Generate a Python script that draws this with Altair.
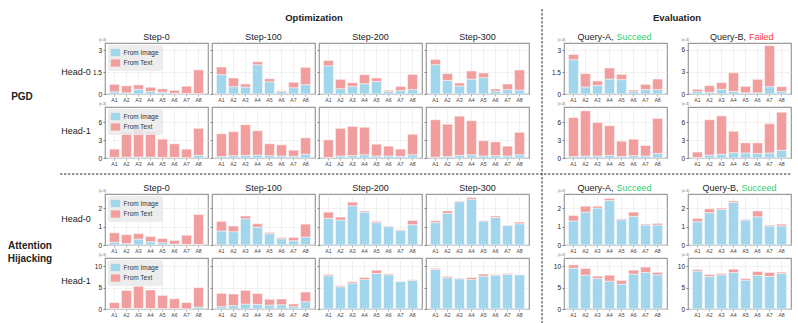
import altair as alt
import pandas as pd

FONT = "Liberation Sans"
BLUE = "#a2d6ec"
PINK = "#f29e9e"
FRAME = "#9a9a9a"
GRID = "#e8e8e8"
GREEN = "#2ecc71"
RED = "#ff3b3b"
DASH = "#333333"

CATEGORIES = ["A1", "A2", "A3", "A4", "A5", "A6", "A7", "A8"]
SOURCES = ["From Image", "From Text"]
STEP_TITLES = ["Step-0", "Step-100", "Step-200", "Step-300"]

# Each row: Step-0, Step-100, Step-200, Step-300, Query-A, Query-B
PGD_H0_IMAGE = [
    [0.15, 0.08, 0.32, 0.17, 0.12, 0.05, 0.03, 0.03],
    [1.32, 0.50, 0.48, 2.00, 0.84, 0.16, 0.43, 0.64],
    [1.92, 0.36, 0.52, 0.70, 0.86, 0.16, 0.23, 0.30],
    [2.00, 0.93, 0.55, 1.02, 1.11, 0.20, 0.30, 0.27],
    [2.34, 0.48, 0.59, 1.02, 0.98, 0.16, 0.30, 0.30],
    [0.32, 0.23, 0.64, 0.36, 0.18, 0.18, 1.00, 0.32],
]
PGD_H0_TEXT = [
    [0.51, 0.48, 0.30, 0.29, 0.23, 0.20, 0.50, 1.62],
    [0.52, 0.59, 0.20, 0.20, 0.20, 0.07, 0.37, 1.18],
    [0.37, 0.64, 0.25, 0.62, 0.23, 0.09, 0.29, 1.04],
    [0.36, 0.46, 0.20, 0.55, 0.32, 0.14, 0.38, 1.37],
    [0.36, 0.91, 0.30, 0.75, 0.36, 0.11, 0.36, 0.72],
    [0.32, 0.91, 0.91, 2.54, 0.87, 1.82, 5.60, 0.68],
]
PGD_H1_IMAGE = [
    [0.10, 0.15, 0.15, 0.15, 0.10, 0.10, 0.05, 0.45],
    [0.25, 0.40, 0.45, 0.50, 0.40, 0.35, 0.30, 0.65],
    [0.10, 0.35, 0.40, 0.55, 0.35, 0.35, 0.30, 0.55],
    [0.15, 0.25, 0.45, 0.55, 0.35, 0.40, 0.35, 0.55],
    [0.25, 0.35, 0.35, 0.45, 0.25, 0.40, 0.35, 0.75],
    [0.10, 0.50, 0.65, 0.90, 0.85, 0.75, 0.85, 1.30],
]
PGD_H1_TEXT = [
    [1.40, 4.18, 5.15, 4.29, 3.07, 2.29, 1.45, 4.55],
    [3.85, 4.04, 5.15, 4.10, 2.00, 1.87, 1.03, 2.75],
    [2.95, 4.65, 4.93, 4.62, 1.98, 1.65, 1.20, 3.45],
    [6.30, 5.45, 6.60, 5.73, 2.55, 2.32, 1.65, 3.78],
    [6.58, 7.60, 5.65, 4.99, 2.58, 2.77, 1.76, 5.92],
    [0.90, 5.95, 6.45, 3.60, 1.70, 1.80, 4.93, 6.42],
]
AH_H0_IMAGE = [
    [0.15, 0.08, 0.32, 0.17, 0.12, 0.05, 0.03, 0.03],
    [0.76, 0.72, 1.42, 0.97, 0.61, 0.34, 0.23, 0.43],
    [1.44, 1.35, 2.12, 1.78, 1.21, 0.99, 0.79, 1.10],
    [1.21, 1.71, 2.34, 2.48, 1.30, 1.49, 1.06, 1.15],
    [1.30, 1.78, 2.00, 2.41, 1.37, 1.55, 1.08, 1.08],
    [1.26, 1.75, 1.93, 2.30, 1.35, 1.53, 1.03, 1.04],
]
AH_H0_TEXT = [
    [0.51, 0.48, 0.30, 0.29, 0.23, 0.20, 0.50, 1.62],
    [0.52, 0.31, 0.15, 0.18, 0.06, 0.07, 0.18, 0.70],
    [0.34, 0.16, 0.20, 0.06, 0.07, 0.04, 0.04, 0.23],
    [0.10, 0.13, 0.04, 0.09, 0.03, 0.08, 0.02, 0.09],
    [0.30, 0.32, 0.10, 0.11, 0.05, 0.23, 0.05, 0.09],
    [0.18, 0.21, 0.07, 0.08, 0.04, 0.31, 0.05, 0.09],
]
AH_H1_IMAGE = [
    [0.10, 0.15, 0.15, 0.15, 0.10, 0.10, 0.05, 0.45],
    [0.54, 0.78, 1.16, 1.08, 0.93, 1.00, 0.54, 1.70],
    [7.75, 5.19, 6.05, 6.90, 8.29, 7.98, 6.43, 6.67],
    [9.22, 7.29, 7.05, 6.90, 7.67, 7.90, 8.06, 7.98],
    [9.53, 7.90, 7.13, 6.50, 5.81, 8.14, 8.53, 7.98],
    [8.84, 7.60, 7.98, 8.53, 6.74, 7.83, 7.60, 8.29],
]
AH_H1_TEXT = [
    [1.40, 4.18, 5.15, 4.29, 3.07, 2.29, 1.45, 4.55],
    [3.10, 2.72, 3.18, 2.56, 1.32, 1.33, 0.62, 2.25],
    [0.31, 0.24, 0.31, 0.46, 0.78, 0.22, 0.07, 0.15],
    [0.24, 0.31, 0.15, 0.46, 0.47, 0.16, 0.23, 0.08],
    [0.77, 1.56, 0.54, 1.40, 0.86, 0.93, 1.24, 0.55],
    [0.38, 0.46, 0.31, 0.77, 0.39, 0.93, 0.93, 0.31],
]

# y-axis upper limits and ticks per row (steps share one axis, queries have their own)
PGD_H0_YMAX = [3.48, 3.48, 3.48, 3.48, 3.48, 6.95]
PGD_H0_TICKS = [[0, 1.5, 3]] * 5 + [[0, 3, 6]]
PGD_H1_YMAX = [8.6] * 6
PGD_H1_TICKS = [[0, 3, 6]] * 6
AH_H0_YMAX = [2.76] * 6
AH_H0_TICKS = [[0, 1, 2]] * 6
AH_H1_YMAX = [11.9] * 6
AH_H1_TICKS = [[0, 5, 10]] * 6

PW, PH = 103, 51
LABEL_W, DIV_W, GAP_W = 100, 27, 13
HEADER_H, SEP_H = 28, 10
BAR_SYMBOL = "M-1.3,-1H1.3V1H-1.3Z"
TITLE_SIZE = 9


def text_layer(txt, x, y, size, color="#222222", weight="normal",
               align="center", baseline="middle"):
    return alt.Chart(pd.DataFrame({"label": [txt]})).mark_text(
        font=FONT, fontSize=size, fontWeight=weight, color=color,
        align=align, baseline=baseline,
    ).encode(text="label:N", x=alt.value(x), y=alt.value(y))


def rule_layer(**enc):
    return alt.Chart(pd.DataFrame({"k": [0]})).mark_rule(
        color=DASH, strokeWidth=1, strokeDash=[2.5, 1.5]
    ).encode(**enc)


def blank(width, height, layers=None):
    if not layers:
        layers = [text_layer("", 0, 0, 1)]
    return alt.layer(*layers).properties(
        width=width, height=height, view=alt.ViewBackground(stroke="transparent")
    )


def bar_panel(image, text, ymax, yticks, tick_labels, legend, titles):
    rows = []
    for cat, img, txt in zip(CATEGORIES, image, text):
        rows.append({"cat": cat, "source": SOURCES[0], "value": img, "rank": 0})
        rows.append({"cat": cat, "source": SOURCES[1], "value": txt, "rank": 1})
    df = pd.DataFrame(rows)

    y_kw = dict(
        values=yticks, grid=True, gridColor=GRID, gridWidth=0.6, domain=False,
        tickSize=2, tickWidth=0.7, tickColor="#555555", labels=tick_labels,
        labelFont=FONT, labelFontSize=6.5, labelColor="#222222", labelPadding=1.5,
        labelExpr="'' + datum.value",
    )
    if tick_labels:
        y_kw.update(
            title="(e-3)", titleFont=FONT, titleFontSize=3.5,
            titleFontWeight="normal", titleColor="#666666", titleAngle=0,
            titleX=-3, titleY=-1.5, titleAlign="center", titleBaseline="bottom",
        )
    else:
        y_kw["title"] = None

    if legend:
        leg = alt.Legend(
            title=None, orient="none", legendX=3, legendY=2, direction="vertical",
            fillColor="rgba(234,234,234,0.88)", cornerRadius=3, padding=3.5,
            symbolType=BAR_SYMBOL, symbolSize=52, symbolStrokeWidth=0,
            symbolOpacity=1, labelFont=FONT, labelFontSize=6.5,
            labelColor="#333333", labelOffset=4, rowPadding=2.5, zindex=1,
        )
    else:
        leg = None

    bars = alt.Chart(df).mark_bar(
        stroke="white", strokeWidth=0.6, strokeOpacity=0.8
    ).encode(
        x=alt.X(
            "cat:N", sort=CATEGORIES,
            scale=alt.Scale(paddingInner=0.17, paddingOuter=0.37),
            axis=alt.Axis(
                title=None, labelAngle=0, labelFont=FONT, labelFontSize=5.2,
                labelColor="#444444", labelPadding=1, tickSize=2, tickWidth=0.6,
                tickColor="#777777", domain=False, grid=True, gridColor=GRID,
                gridWidth=0.6,
            ),
        ),
        y=alt.Y(
            "value:Q", stack="zero",
            scale=alt.Scale(domain=[0, ymax], nice=False),
            axis=alt.Axis(**y_kw),
        ),
        color=alt.Color(
            "source:N", scale=alt.Scale(domain=SOURCES, range=[BLUE, PINK]),
            legend=leg,
        ),
        order=alt.Order("rank:Q", sort="ascending"),
    )
    return alt.layer(bars, *titles).properties(
        width=PW, height=PH,
        view=alt.ViewBackground(stroke=FRAME, strokeWidth=1.2),
    )


def step_title(t):
    return [text_layer(t, PW / 2, -3, TITLE_SIZE, baseline="alphabetic")]


def query_title(name, verdict, color, split):
    return [
        text_layer(name + ",", split - 1.5, -3, TITLE_SIZE, align="right", baseline="alphabetic"),
        text_layer(verdict, split + 1.5, -3, TITLE_SIZE, color=color, align="left", baseline="alphabetic"),
    ]


def panel_row(label_layers, images, texts, ymaxes, ticks, titles):
    """One grid row: label, four step panels, divider gap, two query panels."""
    cells = [blank(LABEL_W, PH, label_layers)]
    for i in range(4):
        cells.append(bar_panel(
            images[i], texts[i], ymaxes[i], ticks[i], i == 0, i == 0,
            step_title(STEP_TITLES[i]) if titles else [],
        ))
    cells.append(blank(DIV_W, PH))
    cells.append(bar_panel(images[4], texts[4], ymaxes[4], ticks[4], True, False,
                           titles[0] if titles else []))
    cells.append(blank(GAP_W, PH))
    cells.append(bar_panel(images[5], texts[5], ymaxes[5], ticks[5], True, False,
                           titles[1] if titles else []))
    return cells


header = [
    blank(LABEL_W, HEADER_H),
    blank(PW, HEADER_H),
    blank(PW, HEADER_H, [text_layer("Optimization", 102, 16, 9.5, weight="bold")]),
    blank(PW, HEADER_H),
    blank(PW, HEADER_H),
    blank(DIV_W, HEADER_H, [rule_layer(x=alt.value(9), y=alt.value(7), y2=alt.value(323))]),
    blank(PW, HEADER_H, [text_layer("Evaluation", 113, 16, 9.5, weight="bold")]),
    blank(GAP_W, HEADER_H),
    blank(PW, HEADER_H),
]

separator = [
    blank(LABEL_W, SEP_H, [rule_layer(x=alt.value(59), x2=alt.value(790), y=alt.value(3))]),
    blank(PW, SEP_H), blank(PW, SEP_H), blank(PW, SEP_H), blank(PW, SEP_H),
    blank(DIV_W, SEP_H), blank(PW, SEP_H), blank(GAP_W, SEP_H), blank(PW, SEP_H),
]

cells = (
    header
    + panel_row(
        [text_layer("Head-0", 75, 29, 9), text_layer("PGD", 21, 54, 10, weight="bold")],
        PGD_H0_IMAGE, PGD_H0_TEXT, PGD_H0_YMAX, PGD_H0_TICKS,
        [query_title("Query-A", "Succeed", GREEN, 51),
         query_title("Query-B", "Failed", RED, 59.5)],
    )
    + panel_row(
        [text_layer("Head-1", 75, 24, 9)],
        PGD_H1_IMAGE, PGD_H1_TEXT, PGD_H1_YMAX, PGD_H1_TICKS, None,
    )
    + separator
    + panel_row(
        [text_layer("Head-0", 75, 25, 9),
         text_layer("Attention", 29, 52, 10, weight="bold"),
         text_layer("Hijacking", 29, 65, 10, weight="bold")],
        AH_H0_IMAGE, AH_H0_TEXT, AH_H0_YMAX, AH_H0_TICKS,
        [query_title("Query-A", "Succeed", GREEN, 51),
         query_title("Query-B", "Succeed", GREEN, 52)],
    )
    + panel_row(
        [text_layer("Head-1", 75, 23, 9)],
        AH_H1_IMAGE, AH_H1_TEXT, AH_H1_YMAX, AH_H1_TICKS, None,
    )
)

chart = alt.concat(
    *cells, columns=9, spacing={"row": 13, "column": 4}, bounds="flush"
).resolve_scale(
    x="independent", y="independent", color="independent"
).resolve_legend(color="independent").properties(
    padding=0
).configure_view(stroke="transparent")

chart.save("out.html", embed_options={"renderer": "svg", "actions": False})
